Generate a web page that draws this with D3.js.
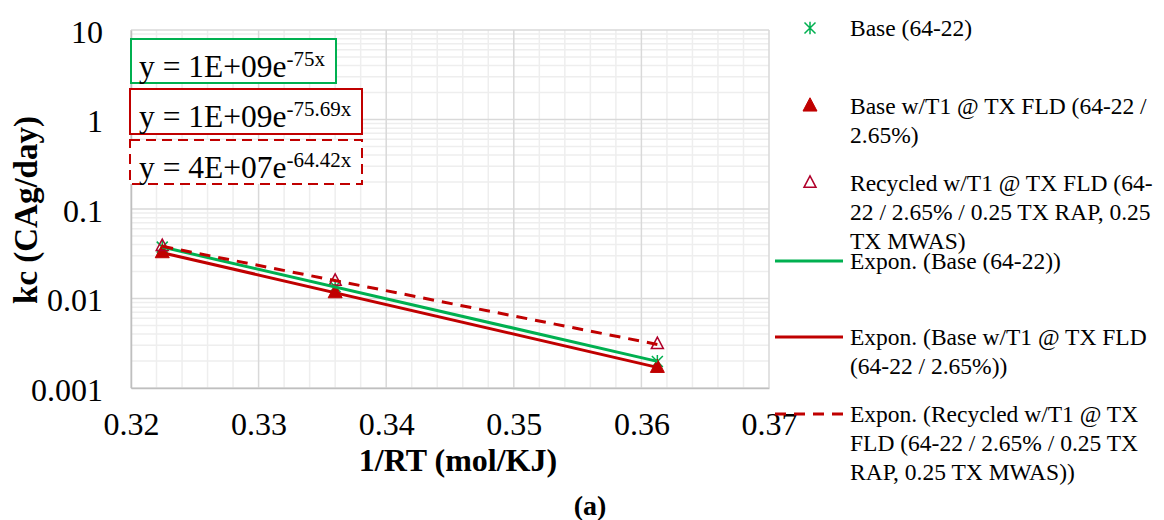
<!DOCTYPE html>
<html><head><meta charset="utf-8">
<script src="https://cdn.jsdelivr.net/npm/d3@7"></script>
<style>
body{margin:0;background:#fff}
text{font-family:"Liberation Serif","Times New Roman",serif;fill:#000}
</style>
</head><body><svg id="c" width="1164" height="520"></svg>
<script>
// ---- data ----
const xValues = [0.32245, 0.3360, 0.36125];
const baseValues = [0.0375, 0.0135, 0.00198];
const t1Values = [0.0325, 0.0116, 0.0017];
const recycledValues = [0.0385, 0.0157, 0.00308];
const xTicks = [0.32, 0.33, 0.34, 0.35, 0.36, 0.37];
const xTickLabels = ["0.32", "0.33", "0.34", "0.35", "0.36", "0.37"];
const yTicks = [0.001, 0.01, 0.1, 1, 10];
const yTickLabels = ["0.001", "0.01", "0.1", "1", "10"];
const legendSeries = [
  ["Base (64-22)"],
  ["Base w/T1 @ TX FLD (64-22 /", "2.65%)"],
  ["Recycled w/T1 @ TX FLD (64-", "22 / 2.65% / 0.25 TX RAP, 0.25", "TX MWAS)"]
];
const legendTrends = [
  ["Expon. (Base (64-22))"],
  ["Expon. (Base w/T1 @ TX FLD", "(64-22 / 2.65%))"],
  ["Expon. (Recycled w/T1 @ TX", "FLD (64-22 / 2.65% / 0.25 TX", "RAP, 0.25 TX MWAS))"]
];
const eqCoef = ["y = 1E+09e", "y = 1E+09e", "y = 4E+07e"];
const eqExp = ["-75x", "-75.69x", "-64.42x"];
const xTitle = "1/RT (mol/KJ)";
const yTitle = "kc (CAg/day)";
const caption = "(a)";

const GREEN = "#00B050", RED = "#C00000", CRIMSON = "#B0002A";

const svg = d3.select("#c");
const L = 131, R = 769, T = 30, B = 388;
const x = d3.scaleLinear().domain([0.32, 0.37]).range([L, R]);
const y = d3.scaleLog().domain([0.001, 10]).range([B, T]);

// ---- gridlines ----
const g = svg.append("g");
const minorX = d3.range(0, 26).map(i => 0.32 + i * 0.002).filter(v => !xTicks.some(t => Math.abs(t - v) < 1e-9));
const minorY = [];
[0.001, 0.01, 0.1, 1].forEach(d => { for (let k = 2; k <= 9; k++) minorY.push(d * k); });
g.selectAll(".mx").data(minorX).join("line")
  .attr("x1", d => x(d)).attr("x2", d => x(d)).attr("y1", T).attr("y2", B)
  .attr("stroke", "#eeeeee").attr("stroke-width", 1.5);
g.selectAll(".my").data(minorY).join("line")
  .attr("x1", L).attr("x2", R).attr("y1", d => y(d)).attr("y2", d => y(d))
  .attr("stroke", "#eeeeee").attr("stroke-width", 1.5);
g.selectAll(".MX").data(xTicks).join("line")
  .attr("x1", d => x(d)).attr("x2", d => x(d)).attr("y1", T).attr("y2", B)
  .attr("stroke", "#d9d9d9").attr("stroke-width", 1.5);
g.selectAll(".MY").data(yTicks).join("line")
  .attr("x1", L).attr("x2", R).attr("y1", d => y(d)).attr("y2", d => y(d))
  .attr("stroke", "#d9d9d9").attr("stroke-width", 1.5);

// ---- axes ----
const xAxis = d3.axisBottom(x).tickValues(xTicks).tickSize(0).tickPadding(0)
  .tickFormat((d, i) => xTickLabels[i]);
const ax = svg.append("g").attr("transform", `translate(0,${B})`).call(xAxis);
ax.select(".domain").attr("stroke", "#bfbfbf").attr("stroke-width", 1.5);
ax.selectAll("text").attr("font-size", 32).attr("dy", null).attr("y", 47)
  .style("font-family", '"Liberation Serif",serif').attr("fill", "#000");

const yAxis = d3.axisLeft(y).tickValues(yTicks).tickSize(0).tickPadding(0)
  .tickFormat((d, i) => yTickLabels[i]);
const ay = svg.append("g").attr("transform", `translate(${L},0)`).call(yAxis);
ay.select(".domain").attr("stroke", "#bfbfbf").attr("stroke-width", 1.5);
ay.selectAll("text").attr("font-size", 32).attr("dy", null).attr("x", -28).attr("y", 12)
  .style("font-family", '"Liberation Serif",serif').attr("fill", "#000");

// ---- markers ----
const pts = (vals) => xValues.map((v, i) => [v, vals[i]]);
const starPath = (s) => `M${-s},${-s}L${s},${s}M${-s},${s}L${s},${-s}M0,${-s * 1.15}L0,${s * 1.15}`;
const triPath = (w) => { const h = w * 0.95; return `M0,${-h * 0.62}L${w / 2},${h * 0.38}L${-w / 2},${h * 0.38}Z`; };

svg.append("g").selectAll("path").data(pts(baseValues)).join("path")
  .attr("transform", d => `translate(${x(d[0])},${y(d[1])})`)
  .attr("d", starPath(5.5)).attr("stroke", GREEN).attr("stroke-width", 1.5).attr("fill", "none");
svg.append("g").selectAll("path").data(pts(t1Values)).join("path")
  .attr("transform", d => `translate(${x(d[0])},${y(d[1])})`)
  .attr("d", triPath(14)).attr("fill", RED).attr("stroke", RED);
svg.append("g").selectAll("path").data(pts(recycledValues)).join("path")
  .attr("transform", d => `translate(${x(d[0])},${y(d[1])})`)
  .attr("d", triPath(12)).attr("fill", "none").attr("stroke", CRIMSON).attr("stroke-width", 1.5);

// ---- exponential trendlines (least squares on ln y) ----
function expFit(xs, ys) {
  const ly = ys.map(Math.log);
  const n = xs.length, mx = d3.mean(xs), my = d3.mean(ly);
  let sxy = 0, sxx = 0;
  for (let i = 0; i < n; i++) { sxy += (xs[i] - mx) * (ly[i] - my); sxx += (xs[i] - mx) ** 2; }
  const b = sxy / sxx, a = my - b * mx;
  return v => Math.exp(a + b * v);
}
const line = d3.line().x(d => x(d[0])).y(d => y(d[1]));
const xr = d3.extent(xValues);
const trend = (vals) => { const f = expFit(xValues, vals); return xr.map(v => [v, f(v)]); };
svg.append("path").attr("d", line(trend(baseValues))).attr("stroke", GREEN).attr("stroke-width", 3).attr("fill", "none");
svg.append("path").attr("d", line(trend(t1Values))).attr("stroke", RED).attr("stroke-width", 3).attr("fill", "none");
svg.append("path").attr("d", line(trend(recycledValues))).attr("stroke", RED).attr("stroke-width", 3)
  .attr("stroke-dasharray", "11,8").attr("fill", "none");

// ---- equation boxes ----
const boxes = [
  {x: 131, y: 39, w: 205, h: 44, c: GREEN, dash: null},
  {x: 130, y: 89, w: 232, h: 45, c: RED, dash: null},
  {x: 130, y: 140, w: 232, h: 44, c: RED, dash: "10,6"}
];
boxes.forEach((b, i) => {
  svg.append("rect").attr("x", b.x).attr("y", b.y).attr("width", b.w).attr("height", b.h)
    .attr("fill", "#fff").attr("stroke", b.c).attr("stroke-width", 2).attr("stroke-dasharray", b.dash);
  const t = svg.append("text").attr("x", 139).attr("y", b.y + 38).attr("font-size", 31.5);
  t.append("tspan").text(eqCoef[i]);
  t.append("tspan").attr("font-size", 21).attr("dy", -11).text(eqExp[i]);
});

// ---- axis titles ----
svg.append("text").attr("x", 458).attr("y", 471).attr("text-anchor", "middle")
  .attr("font-size", 32).attr("font-weight", "bold").text(xTitle);
svg.append("text").attr("transform", "translate(37,210) rotate(-90)").attr("text-anchor", "middle")
  .attr("font-size", 33).attr("font-weight", "bold").text(yTitle);
svg.append("text").attr("x", 590).attr("y", 515).attr("text-anchor", "middle")
  .attr("font-size", 28).attr("font-weight", "bold").text(caption);

// ---- legend ----
const lg = svg.append("g");
const lh = 29, tx = 850, fs = 23.5;
const seriesY = [28, 106, 183];
const trendY = [261, 337, 414];
function legendText(lines, cy) {
  const t = lg.append("text").attr("x", tx).attr("y", cy + 8).attr("font-size", fs);
  lines.forEach((s, i) => t.append("tspan").attr("x", tx).attr("dy", i ? lh : 0).text(s));
}
legendSeries.forEach((l, i) => legendText(l, seriesY[i]));
legendTrends.forEach((l, i) => legendText(l, trendY[i]));
lg.append("path").attr("transform", `translate(810,${seriesY[0]})`).attr("d", starPath(5.5))
  .attr("stroke", GREEN).attr("stroke-width", 1.5).attr("fill", "none");
lg.append("path").attr("transform", `translate(810,${seriesY[1]})`).attr("d", triPath(14)).attr("fill", RED).attr("stroke", RED);
lg.append("path").attr("transform", `translate(810,${seriesY[2]})`).attr("d", triPath(12))
  .attr("fill", "none").attr("stroke", CRIMSON).attr("stroke-width", 1.5);
const lstyles = [[GREEN, null], [RED, null], [RED, "11,8"]];
trendY.forEach((cy, i) => lg.append("line").attr("x1", 775).attr("x2", 843).attr("y1", cy).attr("y2", cy)
  .attr("stroke", lstyles[i][0]).attr("stroke-width", 3).attr("stroke-dasharray", lstyles[i][1]));
</script></body></html>
